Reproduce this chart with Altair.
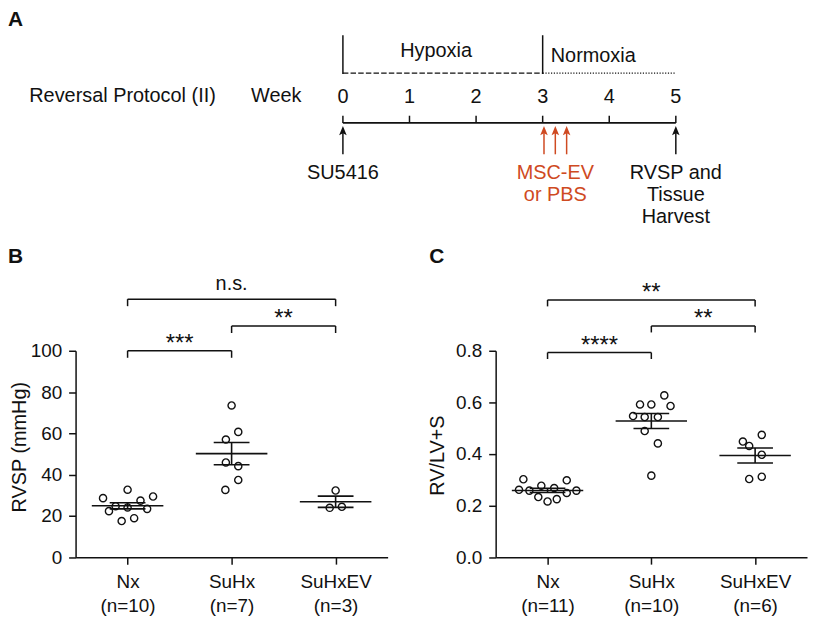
import json
import altair as alt
import pandas as pd

FONT = "Liberation Sans"
RED = "#cf4a22"
INK = "#111111"
W, H = 806, 609

# ---------------- Panel A : protocol timeline ----------------
WEEKS = [0, 1, 2, 3, 4, 5]
PHASE_NAMES = ["Hypoxia", "Normoxia"]
PHASE_START = [0, 3]
PHASE_END = [3, 5]
PHASE_LABEL_WEEK = [1.40, 3.76]
EVENT_WEEK = [0, 3.02, 3.19, 3.36, 5]
EVENT_KIND = ["SU5416", "MSC-EV", "MSC-EV", "MSC-EV", "Harvest"]
LABEL_WEEK = [0, 3.19, 5]
LABEL_KIND = ["SU5416", "MSC-EV", "Harvest"]
LABEL_TEXT = ["SU5416", "MSC-EV\nor PBS", "RVSP and\nTissue\nHarvest"]
ROW_TEXT = ["Reversal Protocol (II)", "Week"]
ROW_WEEK = [-3.31, -1.0]

# ---------------- Panel B : RVSP ----------------
GROUPS = ["Nx", "SuHx", "SuHxEV"]
RVSP_NX = [28.6, 22.3, 24.7, 17.5, 32.7, 24.1, 18.9, 27.4, 23.4, 29.4]
RVSP_NX_JIT = [-0.236, -0.179, -0.115, -0.057, 0.0, 0.0, 0.063, 0.124, 0.188, 0.245]
RVSP_SUHX = [73.5, 60.7, 57.0, 45.9, 44.1, 37.4, 32.6]
RVSP_SUHX_JIT = [0.0, 0.064, -0.055, -0.055, 0.064, 0.064, -0.060]
RVSP_SUHXEV = [32.3, 23.9, 24.4]
RVSP_SUHXEV_JIT = [0.0, -0.057, 0.060]
RVSP_TICKS = [0, 20, 40, 60, 80, 100]
RVSP_BR_LEFT = [0, 1, 0]
RVSP_BR_RIGHT = [1, 2, 2]
RVSP_BR_Y = [100, 112, 125]
RVSP_BR_LABEL = ["***", "**", "n.s."]

# ---------------- Panel C : RV/LV+S ----------------
RV_NX = [0.302, 0.261, 0.258, 0.233, 0.277, 0.216, 0.268, 0.225, 0.298, 0.249, 0.258]
RV_NX_JIT = [-0.233, -0.275, -0.175, -0.089, -0.060, 0.0, 0.064, 0.089, 0.185, 0.185, 0.278]
RV_SUHX = [0.592, 0.592, 0.627, 0.586, 0.547, 0.543, 0.543, 0.489, 0.441, 0.316]
RV_SUHX_JIT = [-0.109, 0.0, 0.125, 0.185, -0.176, -0.064, 0.063, -0.064, 0.063, 0.0]
RV_SUHXEV = [0.448, 0.431, 0.474, 0.397, 0.303, 0.312]
RV_SUHXEV_JIT = [-0.118, -0.057, 0.064, 0.064, -0.057, 0.064]
RV_TICKS = [0.0, 0.2, 0.4, 0.6, 0.8]
RV_BR_LEFT = [0, 1, 0]
RV_BR_RIGHT = [1, 2, 2]
RV_BR_Y = [0.793, 0.896, 0.997]
RV_BR_LABEL = ["****", "**", "**"]

MEAN_HALF = 0.344
SEM_HALF = 0.172

# ================= Panel A =================
WEEK_SCALE = alt.Scale(domain=[0, 5], range=[337, 672], nice=False, zero=False)


def XA(f):
    return alt.X(f"{f}:Q", scale=WEEK_SCALE, axis=None)


wk_df = pd.DataFrame({"week": WEEKS})
tl_df = pd.DataFrame({"start": [WEEKS[0]], "end": [WEEKS[-1]]})
ph_df = pd.DataFrame({"phase": PHASE_NAMES, "start": PHASE_START, "end": PHASE_END, "lw": PHASE_LABEL_WEEK})
ev_df = pd.DataFrame({"week": EVENT_WEEK, "kind": EVENT_KIND})
lb_df = pd.DataFrame({"week": LABEL_WEEK, "kind": LABEL_KIND, "text": LABEL_TEXT})
row_df = pd.DataFrame({"week": ROW_WEEK, "text": ROW_TEXT})

kind_color = alt.when(alt.datum.kind == "MSC-EV").then(alt.value(RED)).otherwise(alt.value(INK))
ARROW = "M0,-1L0.8,1L0,0.55L-0.8,1Z"

a_line = alt.Chart(tl_df).mark_rule(color=INK, strokeWidth=1.6).encode(
    x=XA("start"), x2="end", y=alt.value(113.7))
a_ticks = alt.Chart(wk_df).mark_rule(color=INK, strokeWidth=1.5).encode(
    x=XA("week"), y=alt.value(106.5), y2=alt.value(113.7))
a_wlab = alt.Chart(wk_df).mark_text(fontSize=20, color=INK, baseline="alphabetic").encode(
    x=XA("week"), y=alt.value(93.5), text=alt.Text("week:Q", format="d"))
a_rows = alt.Chart(row_df).mark_text(fontSize=20, color=INK, baseline="alphabetic").encode(
    x=XA("week"), y=alt.value(92.5), text="text:N")
a_bounds = alt.Chart(ph_df).mark_rule(color=INK, strokeWidth=1.5).encode(
    x=XA("start"), y=alt.value(25.5), y2=alt.value(64.5))
a_hyp = alt.Chart(ph_df).transform_filter(alt.datum.phase == "Hypoxia").mark_rule(
    color=INK, strokeWidth=1.3, strokeDash=[5.5, 2.2]).encode(
    x=XA("start"), x2="end", y=alt.value(63.7))
a_nor = alt.Chart(ph_df).transform_filter(alt.datum.phase == "Normoxia").mark_rule(
    color=INK, strokeWidth=1.3, strokeDash=[1.2, 1.6]).encode(
    x=XA("start"), x2="end", y=alt.value(63.7))
a_hyp_t = alt.Chart(ph_df).transform_filter(alt.datum.phase == "Hypoxia").mark_text(
    fontSize=20, color=INK, baseline="alphabetic").encode(
    x=XA("lw"), y=alt.value(47), text="phase:N")
a_nor_t = alt.Chart(ph_df).transform_filter(alt.datum.phase == "Normoxia").mark_text(
    fontSize=20, color=INK, baseline="alphabetic").encode(
    x=XA("lw"), y=alt.value(52), text="phase:N")
a_shaft = alt.Chart(ev_df).mark_rule(strokeWidth=1.5).encode(
    x=XA("week"), y=alt.value(123), y2=alt.value(145.3), color=kind_color)
a_head = alt.Chart(ev_df).mark_point(shape=ARROW, filled=True, size=90, opacity=1, strokeWidth=0).encode(
    x=XA("week"), y=alt.value(121.5), color=kind_color)
a_lab = alt.Chart(lb_df).mark_text(fontSize=20, lineBreak="\n", lineHeight=22, baseline="alphabetic").encode(
    x=XA("week"), y=alt.value(170), text="text:N", color=kind_color)

panelA = alt.layer(a_line, a_ticks, a_wlab, a_rows, a_bounds, a_hyp, a_nor,
                   a_hyp_t, a_nor_t, a_shaft, a_head, a_lab)


# ================= Panels B and C =================
def scatter_panel(vals, jits, counts_groups, ydom, yticks, yfmt, ytitle, xr, yr,
                  axis_left, title_x, title_y, br_left, br_right, br_y, br_label, br_drop):
    rows = []
    for gi, (vs, js) in enumerate(zip(vals, jits)):
        for v, j in zip(vs, js):
            rows.append({"g": gi, "value": v, "x": gi + j})
    pts = pd.DataFrame(rows)
    st = []
    for gi, vs in enumerate(vals):
        s = pd.Series(vs)
        m = s.mean()
        se = s.std(ddof=1) / len(s) ** 0.5
        st.append({"g": gi, "mean": m, "lo": m - se, "hi": m + se})
    st = pd.DataFrame(st)
    br = pd.DataFrame({"left": br_left, "right": br_right, "height": br_y, "label": br_label})

    labels = [[g, f"(n={len(v)})"] for g, v in zip(counts_groups, vals)]
    xaxis = alt.Axis(orient="bottom", offset=yr[0] - H, values=list(range(len(counts_groups))),
                     labelExpr=json.dumps(labels) + "[datum.value]",
                     tickSize=7, tickWidth=1.5, domainWidth=1.5, labelFontSize=19,
                     labelLineHeight=24, labelPadding=9, labelBaseline="top",
                     labelFlush=False, labelOverlap=False, grid=False)
    yaxis = alt.Axis(orient="left", offset=-axis_left, values=yticks, format=yfmt,
                     tickSize=7, tickWidth=1.5, domainWidth=1.5, labelFontSize=19,
                     labelPadding=7, labelFlush=False, labelOverlap=False, grid=False,
                     titleFontSize=20, titleFontWeight="normal", titleX=title_x, titleY=title_y,
                     titleAngle=-90, titleAlign="center", titleBaseline="middle")
    XS = alt.Scale(domain=[-0.5, 2.5], range=xr, nice=False, zero=False)
    YS = alt.Scale(domain=ydom, range=yr, nice=False, zero=False)

    def X(f):
        return alt.X(f"{f}:Q", scale=XS, axis=xaxis, title=None)

    def Y(f):
        return alt.Y(f"{f}:Q", scale=YS, axis=yaxis, title=ytitle)

    points = alt.Chart(pts).mark_point(shape="circle", filled=False, size=52, strokeWidth=1.4,
                                        color=INK, opacity=1).encode(x=X("x"), y=Y("value"))
    mean = alt.Chart(st).transform_calculate(
        xa=f"datum.g - {MEAN_HALF}", xb=f"datum.g + {MEAN_HALF}"
    ).mark_rule(color=INK, strokeWidth=1.6).encode(x=X("xa"), x2="xb", y=Y("mean"))
    sem = alt.Chart(st).transform_fold(["lo", "hi"], as_=["which", "yv"]).transform_calculate(
        xa=f"datum.g - {SEM_HALF}", xb=f"datum.g + {SEM_HALF}"
    ).mark_rule(color=INK, strokeWidth=1.6).encode(x=X("xa"), x2="xb", y=Y("yv"))
    vbar = alt.Chart(st).mark_rule(color=INK, strokeWidth=1.6).encode(x=X("g"), y=Y("lo"), y2="hi")
    br_h = alt.Chart(br).mark_rule(color=INK, strokeWidth=1.5).encode(x=X("left"), x2="right", y=Y("height"))
    br_v = alt.Chart(br).transform_fold(["left", "right"], as_=["side", "xe"]).transform_calculate(
        bottom=f"datum.height - {br_drop}"
    ).mark_rule(color=INK, strokeWidth=1.5).encode(x=X("xe"), y=Y("height"), y2="bottom")
    star = alt.Chart(br).transform_filter(alt.datum.label != "n.s.").transform_calculate(
        xm="(datum.left + datum.right) / 2"
    ).mark_text(fontSize=24, color=INK, baseline="alphabetic", dy=0).encode(
        x=X("xm"), y=Y("height"), text="label:N")
    ns = alt.Chart(br).transform_filter(alt.datum.label == "n.s.").transform_calculate(
        xm="(datum.left + datum.right) / 2"
    ).mark_text(fontSize=20, color=INK, baseline="alphabetic", dy=-9).encode(
        x=X("xm"), y=Y("height"), text="label:N")
    return alt.layer(points, mean, sem, vbar, br_h, br_v, star, ns)


panelB = scatter_panel(
    [RVSP_NX, RVSP_SUHX, RVSP_SUHXEV], [RVSP_NX_JIT, RVSP_SUHX_JIT, RVSP_SUHXEV_JIT], GROUPS,
    [0, 100], RVSP_TICKS, "d", "RVSP (mmHg)", [68, 382], [550.7, 343],
    68, -56.5, 439.5, RVSP_BR_LEFT, RVSP_BR_RIGHT, RVSP_BR_Y, RVSP_BR_LABEL, 3.4)

panelC = scatter_panel(
    [RV_NX, RV_SUHX, RV_SUHXEV], [RV_NX_JIT, RV_SUHX_JIT, RV_SUHXEV_JIT], GROUPS,
    [0, 0.8], RV_TICKS, ".1f", "RV/LV+S", [490.7, 804], [550.7, 343],
    490.7, -58.7, 448, RV_BR_LEFT, RV_BR_RIGHT, RV_BR_Y, RV_BR_LABEL, 0.025)

# ================= panel letters =================
def letter(t, px, py):
    return alt.Chart(pd.DataFrame({"t": [t]})).mark_text(
        fontSize=21, fontWeight="bold", color=INK, align="left", baseline="top"
    ).encode(text="t:N", x=alt.value(px), y=alt.value(py))


letters = alt.layer(letter("A", 0, -1), letter("B", 0, 237.5), letter("C", 424, 237.5))

chart = alt.layer(panelA, panelB, panelC, letters).resolve_scale(
    x="independent", y="independent"
).properties(
    width=W, height=H, padding=0, autosize=alt.AutoSizeParams(type="none")
).configure(font=FONT).configure_view(stroke=None).configure_axis(
    labelFont=FONT, titleFont=FONT, labelColor=INK, titleColor=INK,
    domainColor=INK, tickColor=INK, grid=False
).configure_text(font=FONT)

chart.save("out.html", embed_options={"renderer": "svg", "actions": False})
